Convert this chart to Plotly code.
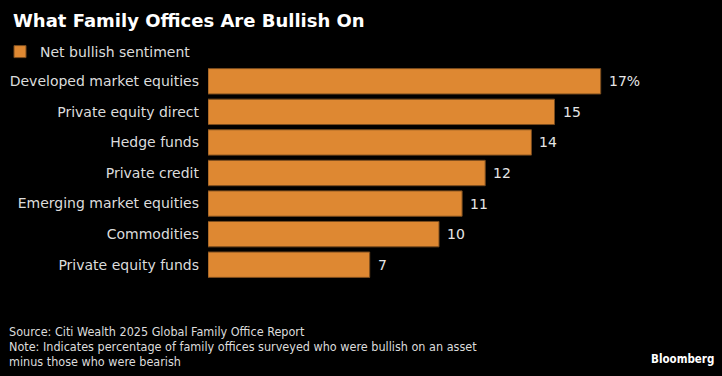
import plotly.graph_objects as go

categories = ["Developed market equities", "Private equity direct", "Hedge funds",
              "Private credit", "Emerging market equities", "Commodities",
              "Private equity funds"]
values = [17, 15, 14, 12, 11, 10, 7]
value_labels = ["17%", "15", "14", "12", "11", "10", "7"]
series_name = "Net bullish sentiment"
title = "What Family Offices Are Bullish On"
source_lines = ["Source: Citi Wealth 2025 Global Family Office Report",
                "Note: Indicates percentage of family offices surveyed who were bullish on an asset",
                "minus those who were bearish"]

W, H = 722, 376
x_max = 20.0
plot_left = 208
px_per_unit = 23.1
plot_right = plot_left + px_per_unit * x_max
top_px, bot_px = 66, 280
pw, ph = plot_right - plot_left, bot_px - top_px


def px(x):
    return (x - plot_left) / pw


def py(y):
    return (bot_px - y) / ph


LABEL_FONT = "DejaVu Sans"
NARROW = "DejaVu Sans Condensed, Liberation Sans Narrow, sans-serif"

fig = go.Figure(go.Bar(
    y=categories, x=values, orientation="h",
    marker=dict(color="#DE8832", line=dict(color="#7a4c1e", width=1)),
    name=series_name, showlegend=True,
))

for c, v, t in zip(categories, values, value_labels):
    fig.add_annotation(x=v, y=c, xref="x", yref="y", text=t, showarrow=False,
                       xanchor="left", yanchor="middle", xshift=6,
                       font=dict(color="#e6e6e6", size=14, family=LABEL_FONT))

fig.update_layout(
    width=W, height=H, paper_bgcolor="black", plot_bgcolor="black",
    margin=dict(l=plot_left, r=W - plot_right, t=top_px, b=H - bot_px, pad=0,
                autoexpand=False),
    bargap=0.17,
    xaxis=dict(range=[0, x_max], visible=False, fixedrange=True),
    yaxis=dict(autorange="reversed", showgrid=False, zeroline=False, showline=False,
               ticks="", ticklabelstandoff=8, fixedrange=True, automargin=False,
               tickfont=dict(color="#dcdcdc", size=14, family=LABEL_FONT)),
    font=dict(family=LABEL_FONT, color="#e0e0e0"),
    showlegend=True,
    legend=dict(xref="container", yref="container", x=-8 / W, y=1 - 52 / H,
                xanchor="left", yanchor="middle",
                orientation="h", bgcolor="rgba(0,0,0,0)",
                font=dict(size=14, color="#dcdcdc", family=LABEL_FONT),
                itemwidth=30),
)

fig.add_annotation(xref="paper", yref="paper", x=px(11), y=py(21), showarrow=False,
                   text="<b>" + title + "</b>", xanchor="left", yanchor="middle",
                   font=dict(size=18, color="white", family="DejaVu Sans"))

for i, line in enumerate(source_lines):
    fig.add_annotation(xref="paper", yref="paper", x=px(7), y=py(331 + 15 * i),
                       showarrow=False, text=line, xanchor="left", yanchor="middle",
                       font=dict(size=12.5, color="#dcdcdc", family=NARROW))

fig.add_annotation(xref="paper", yref="paper", x=px(716), y=py(359), showarrow=False,
                   text="<b>Bloomberg</b>", xanchor="right", yanchor="middle",
                   font=dict(size=11.5, color="white", family=NARROW))

fig.write_html("out.html", post_script="document.body.style.margin='0';",
               config={"displayModeBar": False})
